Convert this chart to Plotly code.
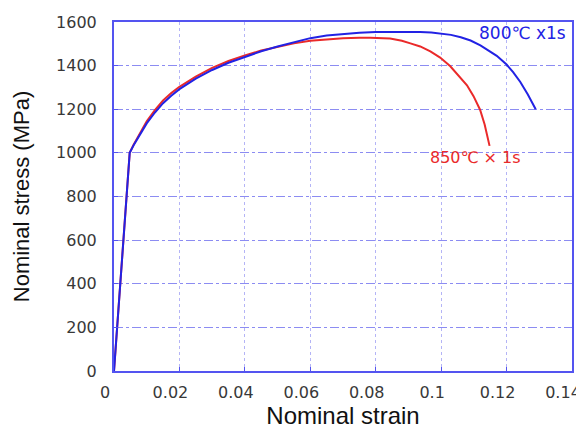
import plotly.graph_objects as go

# 800°C x 1s (blue)
strain_800 = [0, 0.0048, 0.0060, 0.0080, 0.0100, 0.0125, 0.0150, 0.0175, 0.0200,
              0.0250, 0.0300, 0.0350, 0.0400, 0.0450, 0.0500, 0.0550, 0.0600,
              0.0650, 0.0700, 0.0750, 0.0800, 0.0850, 0.0900, 0.0936, 0.0970,
              0.1000, 0.1030, 0.1060, 0.1090, 0.1120, 0.1145, 0.1170, 0.1200,
              0.1220, 0.1242, 0.1265, 0.1289]
stress_800 = [0, 1000, 1035, 1088, 1135, 1185, 1228, 1262, 1292,
              1340, 1380, 1413, 1440, 1466, 1488, 1508, 1526,
              1538, 1546, 1551, 1554, 1555, 1555, 1554, 1552,
              1548, 1541, 1530, 1515, 1493, 1470, 1445, 1405,
              1370, 1325, 1268, 1200]

# 850°C x 1s (red)
strain_850 = [0, 0.0048, 0.0060, 0.0080, 0.0100, 0.0125, 0.0150, 0.0175, 0.0200,
              0.0250, 0.0300, 0.0350, 0.0400, 0.0450, 0.0500, 0.0550, 0.0600,
              0.0650, 0.0700, 0.0750, 0.0783, 0.0844, 0.0880, 0.0906, 0.0936,
              0.0967, 0.0997, 0.1028, 0.1058, 0.1079, 0.1099, 0.1119, 0.1133, 0.1148]
stress_850 = [0, 1000, 1038, 1095, 1145, 1196, 1240, 1274, 1303,
              1350, 1390, 1421, 1447, 1469, 1487, 1502, 1514,
              1521, 1526, 1528, 1528, 1524, 1514, 1502, 1488,
              1465, 1437, 1397, 1348, 1310, 1260, 1198, 1130, 1032]

x_ticks = [0, 0.02, 0.04, 0.06, 0.08, 0.1, 0.12, 0.14]
x_labels = ["0", "0.02", "0.04", "0.06", "0.08", "0.1", "0.12", "0.14"]
y_ticks = [0, 200, 400, 600, 800, 1000, 1200, 1400, 1600]

BLUE = "#2222e4"
RED = "#ea2a2a"
FRAME = "#5454f0"
TICKFONT = dict(size=16, color="#383838", family="DejaVu Sans")

fig = go.Figure()
fig.add_trace(go.Scatter(x=strain_850, y=stress_850, mode="lines",
                         line=dict(color=RED, width=2),
                         showlegend=False))
fig.add_trace(go.Scatter(x=strain_800, y=stress_800, mode="lines",
                         line=dict(color=BLUE, width=2),
                         showlegend=False))

fig.add_annotation(x=0.1389, y=1550, xref="x", yref="y", text="800℃ x1s",
                   showarrow=False, xanchor="right", yanchor="middle",
                   font=dict(color=BLUE, size=17, family="DejaVu Sans"))
fig.add_annotation(x=0.0961, y=977, xref="x", yref="y", text="850℃ × 1s",
                   showarrow=False, xanchor="left", yanchor="middle",
                   font=dict(color=RED, size=16, family="DejaVu Sans"))

# page body has an 8px default margin, so the figure is sized to fit inside
fig.update_layout(
    width=576, height=422,
    margin=dict(l=106, r=12, t=14, b=59),
    paper_bgcolor="white", plot_bgcolor="white",
    font=dict(family="Liberation Sans", color="#333333"),
)
fig.update_xaxes(range=[0, 0.14], tickvals=x_ticks, ticktext=x_labels,
                 automargin=False, ticklabeloverflow="allow",
                 showgrid=True, gridcolor="#b4b4f6", griddash="dot", gridwidth=1,
                 showline=True, linecolor=FRAME, linewidth=2, mirror=True,
                 ticks="inside", ticklen=4, tickcolor=FRAME, zeroline=False,
                 tickfont=TICKFONT, ticklabelstandoff=6, ticklabelshift=-9,
                 title=dict(text="Nominal strain", font=dict(size=24, color="#111111"), standoff=5))
fig.update_yaxes(range=[0, 1600], tickvals=y_ticks,
                 automargin=False, ticklabeloverflow="allow",
                 showgrid=True, gridcolor="#8c8cf2", griddash="dashdot", gridwidth=1,
                 showline=True, linecolor=FRAME, linewidth=2, mirror=True,
                 ticks="inside", ticklen=4, tickcolor=FRAME, zeroline=False,
                 tickfont=TICKFONT, ticklabelstandoff=12,
                 title=dict(text="Nominal stress (MPa)", font=dict(size=22, color="#111111"), standoff=20))

fig.write_html("out.html")
